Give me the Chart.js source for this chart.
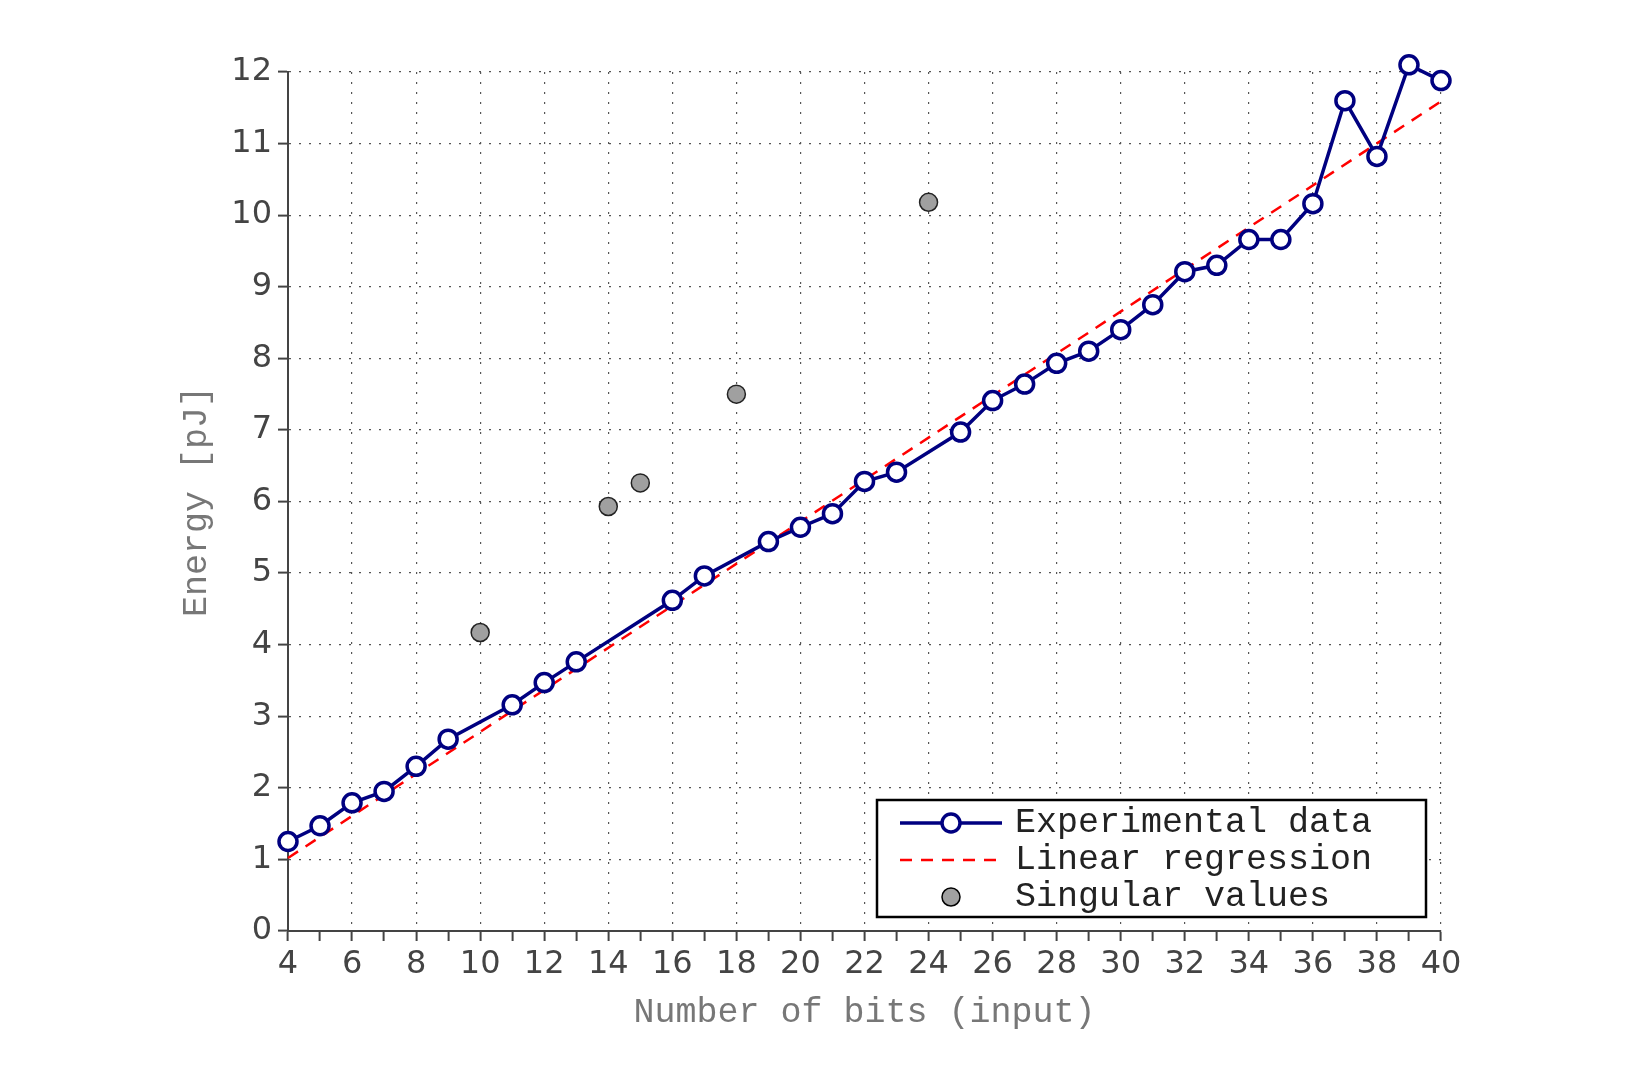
<!DOCTYPE html>
<html>
<head>
<meta charset="utf-8">
<script src="https://cdn.jsdelivr.net/npm/chart.js@4.4.1/dist/chart.umd.min.js"></script>
<style>body{margin:0;background:#fff}</style>
</head>
<body>
<canvas id="c" width="1629" height="1086"></canvas>
<script>
// data
const bits = [4,5,6,7,8,9,10,11,12,13,14,15,16,17,18,19,20,21,22,23,24,25,26,27,28,29,30,31,32,33,34,35,36,37,38,39,40];
const experimental = [1.25,1.47,1.79,1.95,2.30,2.68,null,3.16,3.47,3.76,null,null,4.62,4.96,null,5.44,5.64,5.83,6.28,6.41,null,6.97,7.41,7.64,7.93,8.10,8.40,8.75,9.21,9.30,9.66,9.66,10.16,11.60,10.82,12.10,11.88];
const singularBits = [10,14,15,18,24];
const singularValues = [4.17,5.93,6.26,7.50,10.18];
const regressionBits = [4,40];
const regressionValues = [1.02,11.59];

const tickFont = {family: 'DejaVu Sans', size: 32};
const titleFont = {family: 'Liberation Mono', size: 35};

// legend drawn inside the plot, bottom right
const legendBox = {
    id: 'legendBox',
    afterDraw(chart) {
        const ctx = chart.ctx;
        const x = 877, y = 800, w = 549, h = 117;
        ctx.save();
        ctx.fillStyle = '#fff';
        ctx.fillRect(x, y, w, h);
        ctx.strokeStyle = '#000';
        ctx.lineWidth = 2.5;
        ctx.strokeRect(x, y, w, h);
        ctx.font = '35px "Liberation Mono"';
        ctx.textBaseline = 'middle';
        const rows = [y + 23, y + 60, y + 97];
        // experimental
        ctx.strokeStyle = '#000080'; ctx.lineWidth = 3.5;
        ctx.beginPath(); ctx.moveTo(900, rows[0]); ctx.lineTo(1002, rows[0]); ctx.stroke();
        ctx.fillStyle = '#fff';
        ctx.beginPath(); ctx.arc(951, rows[0], 9, 0, Math.PI * 2); ctx.fill(); ctx.stroke();
        // regression
        ctx.strokeStyle = '#ff0000'; ctx.lineWidth = 2.5; ctx.setLineDash([12, 9]);
        ctx.beginPath(); ctx.moveTo(900, rows[1]); ctx.lineTo(1002, rows[1]); ctx.stroke();
        ctx.setLineDash([]);
        // singular
        ctx.fillStyle = '#a0a0a0'; ctx.strokeStyle = '#000'; ctx.lineWidth = 1.5;
        ctx.beginPath(); ctx.arc(951, rows[2], 9, 0, Math.PI * 2); ctx.fill(); ctx.stroke();
        ctx.fillStyle = '#222';
        ctx.fillText('Experimental data', 1015, rows[0]);
        ctx.fillText('Linear regression', 1015, rows[1]);
        ctx.fillText('Singular values', 1015, rows[2]);
        ctx.restore();
    }
};

new Chart(document.getElementById('c'), {
    type: 'scatter',
    data: {
        datasets: [{
            data: regressionBits.map((b, i) => ({x: b, y: regressionValues[i]})),
            showLine: true,
            borderColor: '#ff0000',
            borderWidth: 2.5,
            borderDash: [12, 9],
            pointRadius: 0,
            order: 2
        }, {
            data: bits.map((b, i) => ({x: b, y: experimental[i]})),
            showLine: true,
            spanGaps: true,
            borderColor: '#000080',
            borderWidth: 3.5,
            pointRadius: 9,
            pointBorderWidth: 3.5,
            pointBackgroundColor: '#fff',
            pointBorderColor: '#000080',
            order: 1
        }, {
            data: singularBits.map((b, i) => ({x: b, y: singularValues[i]})),
            pointRadius: 9,
            pointBorderWidth: 1.5,
            pointBackgroundColor: '#a0a0a0',
            pointBorderColor: '#222',
            order: 0
        }]
    },
    options: {
        responsive: false,
        animation: false,
        clip: false,
        layout: {padding: {left: 172, right: 188, top: 72, bottom: 48}},
        plugins: {legend: {display: false}, tooltip: {enabled: false}},
        scales: {
            x: {
                type: 'linear', min: 4, max: 40,
                afterFit: s => { s.height = 107; },
                ticks: {
                    stepSize: 1, autoSkip: false, maxRotation: 0,
                    color: '#444', font: tickFont, padding: 4,
                    callback: v => (v % 2 === 0 ? v : '')
                },
                grid: {
                    color: c => (c.tick && c.tick.value % 2 === 0 && c.tick.value > 4 ? '#555' : 'rgba(0,0,0,0)'),
                    tickColor: '#444', tickLength: 10, tickWidth: 2, lineWidth: 1.2
                },
                border: {color: '#444', width: 2, dash: [2, 8]},
                title: {display: true, text: 'Number of bits (input)', color: '#777', font: titleFont, padding: {top: 0}}
            },
            y: {
                min: 0, max: 12,
                afterFit: s => { s.width = 116; },
                afterBuildTicks: s => {
                    const t = [];
                    for (let v = 0; v <= 12; v += 0.5) t.push({value: v});
                    s.ticks = t;
                },
                ticks: {
                    color: '#444', font: tickFont, padding: 6,
                    callback: v => (Number.isInteger(v) ? v : '')
                },
                grid: {
                    color: c => (c.tick && Number.isInteger(c.tick.value) && c.tick.value > 0 ? '#555' : 'rgba(0,0,0,0)'),
                    tickColor: '#444', tickLength: 10, tickWidth: 2, lineWidth: 1.2
                },
                border: {color: '#444', width: 2, dash: [2, 8]},
                title: {display: true, text: 'Energy [pJ]', color: '#777', font: titleFont, padding: {bottom: 0}}
            }
        }
    },
    plugins: [legendBox]
});
</script>
</body>
</html>
